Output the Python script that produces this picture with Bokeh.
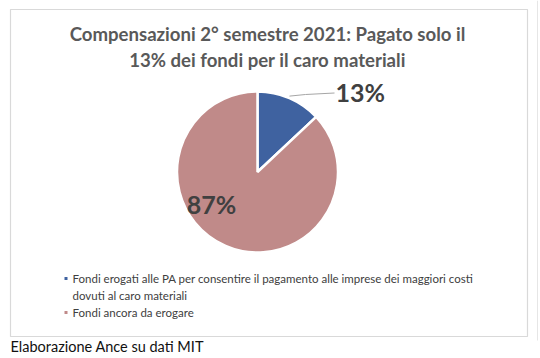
import math
from bokeh.plotting import figure
from bokeh.models import Range1d, ColumnDataSource
from bokeh.core.properties import value
from bokeh.embed import file_html
from bokeh.resources import INLINE

# ---- data ----
categories = [
    "Fondi erogati alle PA per consentire il pagamento alle imprese dei maggiori costi dovuti al caro materiali",
    "Fondi ancora da erogare",
]
legend_lines = [
    ["Fondi erogati alle PA per consentire il pagamento alle imprese dei maggiori costi",
     "dovuti al caro materiali"],
    ["Fondi ancora da erogare"],
]
shares = [13, 87]
labels = ["13%", "87%"]
colors = ["#3F62A0", "#C08A89"]
title_lines = ["Compensazioni 2° semestre 2021: Pagato solo il",
               "13% dei fondi per il caro materiali"]
source_note = "Elaborazione Ance su dati MIT"

W, H = 540, 358
FONT = "Lato"


def Y(py):
    return H - py


p = figure(width=W, height=H, output_backend="svg", toolbar_location=None,
           x_range=Range1d(0, W), y_range=Range1d(0, H),
           min_border=0, outline_line_color=None)
p.axis.visible = False
p.grid.visible = False
p.background_fill_color = "white"
p.border_fill_color = "white"

# chart frame
p.quad(left=[10], right=[527], top=[Y(9)], bottom=[Y(336)],
       fill_color="white", line_color="#D9D9D9", line_width=1.2)
p.segment(x0=[537], y0=[Y(0)], x1=[537], y1=[Y(340)], line_color="#E6E6E6", line_width=1)

# title
for i, t in enumerate(title_lines):
    p.text(x=[267], y=[Y(33 + i * 26)], text=[t], text_font=value(FONT),
           text_font_style="bold", text_font_size="18.6px", text_color="#595959",
           text_align="center", text_baseline="middle")

# pie
cx, cy, r = 257, Y(171.5), 80.5
total = sum(shares)
starts, ends = [], []
cum = 0
for s in shares:
    starts.append(math.pi / 2 - 2 * math.pi * cum / total)
    cum += s
    ends.append(math.pi / 2 - 2 * math.pi * cum / total)
src = ColumnDataSource(dict(start=starts, end=ends, color=colors))
p.wedge(x=cx, y=cy, radius=r, start_angle="start", end_angle="end",
        direction="clock", fill_color="color", line_color="white",
        line_width=2.5, source=src)

# leader line for first slice
mid0 = (starts[0] + ends[0]) / 2
x0 = cx + r * 1.0 * math.cos(mid0)
y0 = cy + r * 1.0 * math.sin(mid0) + 2
p.line(x=[x0, 305, 334], y=[y0, Y(94), Y(92.5)], line_color="#A6A6A6", line_width=1)

# data labels
p.text(x=[335], y=[Y(91)], text=[labels[0]], text_font=value(FONT),
       text_font_style="bold", text_font_size="25px", text_color="#404040",
       text_align="left", text_baseline="middle")
p.text(x=[211], y=[Y(203)], text=[labels[1]], text_font=value(FONT),
       text_font_style="bold", text_font_size="25px", text_color="#404040",
       text_align="center", text_baseline="middle")

# legend
ly = 278
for ci, lines in enumerate(legend_lines):
    p.rect(x=[65.5], y=[Y(ly)], width=3, height=3, fill_color=colors[ci], line_color=None)
    for ln in lines:
        p.text(x=[72], y=[Y(ly)], text=[ln], text_font=value(FONT),
               text_font_size="11.5px", text_color="#404040",
               text_align="left", text_baseline="middle")
        ly += 17

# source note
p.text(x=[10], y=[Y(346)], text=[source_note], text_font=value(FONT),
       text_font_size="14.5px", text_color="#111111",
       text_align="left", text_baseline="middle")

open("out.html", "w").write(file_html(p, INLINE))
